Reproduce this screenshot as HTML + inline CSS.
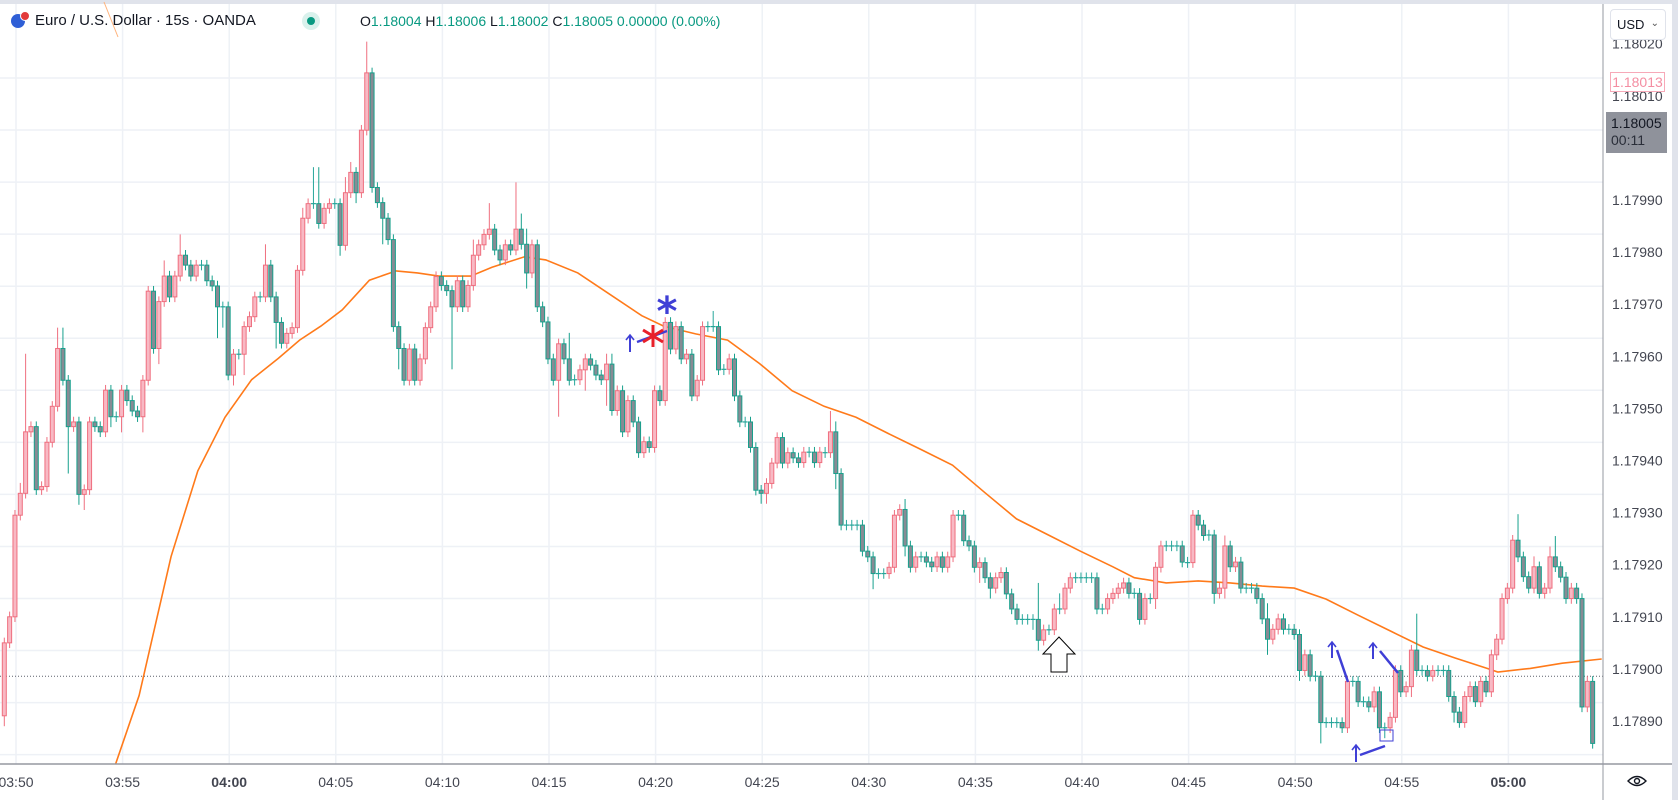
<!DOCTYPE html>
<html><head><meta charset="utf-8">
<style>
html,body{margin:0;padding:0;background:#fff;}
body{width:1678px;height:800px;overflow:hidden;position:relative;font-family:"Liberation Sans",sans-serif;}
svg{position:absolute;left:0;top:0;}
</style></head>
<body>
<svg id="chart" width="1678" height="800" xmlns="http://www.w3.org/2000/svg">
  <rect x="0" y="0" width="1678" height="800" fill="#ffffff"/>
  <rect x="0" y="0" width="1678" height="4" fill="#e0e3eb"/>
  <rect x="1672" y="0" width="6" height="800" fill="#e0e3eb"/>
  <g id="grid"></g>
  <g id="ma"></g>
  <g id="candles"></g>
  <g id="annot"></g>
  <g id="axes"></g>
</svg>
<script>
// ---- data (prices in units of 0.00001 above 1.17800) ----
const closes = [105,110,129.5,133.7,145.5,146.5,134.4,135,143.5,150.4,161.5,155.4,146.5,147.4,133.5,134.4,147.4,146.5,145.5,153.5,
148.4,148.4,153.5,151.5,149.5,148.4,155.4,172.5,161.5,170.5,175.4,171.4,175.4,179.4,177.5,175.4,177.5,177.5,174.5,173.5,
169.5,169.5,156.4,160.4,160.4,165.7,167.6,171.4,171.4,177.5,171.4,166.5,162.5,164.4,165.5,176.5,186.5,189.3,189.3,185.5,
188.4,189.3,189.3,181.3,191.4,195.3,191.4,203.4,214.4,192.4,189.5,186.5,182.4,165.7,161.5,155.4,161.4,155.4,159.5,165.5,
169.5,175.3,173.6,172.6,169.5,174.5,169.5,173.6,179.4,181.4,183.4,184.4,180.4,178.5,181.4,180.4,184.4,181.5,176,181.4,
169.5,166.6,159.5,155.4,162.4,159.5,155.4,155.5,157.4,159.5,158.3,156.4,155.5,158.5,149.6,153.4,145.5,151.5,147.4,141.5,
143.6,142.5,153.4,151.5,166.5,161.4,165.7,159.5,160.4,152.4,155.4,165.7,165.7,165.7,157.4,157.5,159.5,152.4,147.4,147.4,
142.5,134.3,133.7,135.6,139.5,144.4,139.5,141.5,140.5,139.6,141.6,141.6,139.6,141.6,141.5,145.5,137.5,127.6,127.6,127.6,
127.6,122.6,121.5,118.3,118.3,118.3,119.5,129.5,130.6,123.6,119.5,121.5,121.5,120.5,119.6,121.5,119.5,121.5,129.5,129.5,
124.6,123.6,119.5,120.4,117.5,115.5,117.5,118.5,114.4,111.5,109.5,109.5,109.5,109.5,105.5,107.5,107.5,111.5,111.5,115.5,
117.5,117.5,117.5,117.5,117.5,111.5,111.5,113.5,114.5,115.5,116.5,114.5,114.5,109.5,113.5,113.5,119.5,123.6,123.6,123.6,
123.6,120.5,120.4,129.5,127.6,125.6,125.7,114.5,115.5,123.6,119.6,120.5,115.5,115.5,115.5,113.5,109.6,105.7,107.6,109.6,
107.6,107.6,106.6,99.7,102.7,98.6,98.6,89.7,89.7,89.7,89.7,88.7,97.6,97.6,93.7,93.7,92.7,95.6,88.7,88.7,
90.7,99.7,95.6,96.6,103.6,99.7,99.7,98.6,99.7,99.7,99.7,94.7,91.7,89.7,94.7,96.6,93.7,97.6,95.6,102.7,
105.7,113.5,115.5,124.7,121.5,117.7,115.5,119.6,114.5,115.5,121.5,119.6,117.6,113.5,115.5,113.5,92.7,97.6,85.7];
const firstOpen = 91;
const wickIdx = [0,3,4,10,11,12,14,15,20,22,26,29,30,33,40,41,43,45,49,51,56,58,59,63,64,65,66,68,71,74,84,88,91,96,97,98,104,106,109,113,114,122,133,142,143,155,156,157,163,169,178,183,185,187,193,194,198,199,216,217,227,229,237,243,247,251,252,259,261,264,265,268,272,273,283,284,287,290,291,293,296];
const wickUp  = [1,2,15,4,4,1,1,1,1,1,1,1,3,4,1,1,1,1,4,1,2,7,7,1,3,2,1,6,1,1,1,3,5,9,3,3,1,5,1,2,2,1,3,1,1,4,2,1,1,2,1,1,1,1,1,7,3,1,1,1,1,2,3,1,1,1,1,1,1,1,7,1,1,1,1,5,2,2,4,1,1];
const wickDn  = [2,1,1,1,1,9,2,3,2,3,3,3,1,1,6,4,2,4,1,5,1,1,1,2,1,1,2,1,5,4,12,1,1,1,1,3,7,1,4,5,1,1,1,2,2,1,3,1,3,2,1,3,2,1,2,2,1,1,2,1,2,2,3,2,4,1,1,2,1,2,1,1,2,1,1,1,1,1,1,1,1];
const maIdx = [20.9,25.3,31.3,36.3,41.4,46.4,51.4,55.4,59.4,63.4,68.5,73.5,77.5,81.5,87.5,91.5,97.6,101.6,107.6,113.6,119.6,123.7,129.7,135.7,141.7,147.8,153.8,159.8,165.8,171.8,177.9,183.9,189.9,195.9,201.9,208,212,218,224,230,236,242,248,254,260.2,266.2,272.2,278.2,280.2,286.3,292.3,299.7];
const maVal = [81.8,94.9,121.6,138,148.3,155.5,159.6,163.1,165.8,168.9,174.6,176.4,176,175.4,175.4,177.1,179.1,178.5,176,171.9,167.8,165.8,164.3,163.1,158.6,153.4,150.4,148.3,145.2,142.2,139.1,133.9,128.8,125.7,122.6,119.6,117.5,116.5,116.9,116.5,115.9,115.5,113.4,110.3,107.2,104.2,102.1,100.1,99.4,100.1,101.1,101.9];
const priceTicks = ["1.18020","1.18010","1.18000","1.17990","1.17980","1.17970","1.17960","1.17950","1.17940","1.17930","1.17920","1.17910","1.17900","1.17890"];
const timeTicks = ["03:50","03:55","04:00","04:05","04:10","04:15","04:20","04:25","04:30","04:35","04:40","04:45","04:50","04:55","05:00"];
const lastPrice = 98.6;

// ---- scales ----
const NS='http://www.w3.org/2000/svg';
const PLOT_R=1603, PLOT_B=764;
function yOf(p){return 200+(190-p)*5.21;}
function xOf(i){return 4.3+i*5.33;}
function tickX(k){return 16+k*106.6;}
function mk(tag,attrs,parent){const e=document.createElementNS(NS,tag);for(const k in attrs)e.setAttribute(k,attrs[k]);parent.appendChild(e);return e;}

const grid=document.getElementById('grid');
for(let k=0;k<15;k++){
  const gy=78+k*52.05;
  if(gy<PLOT_B){const l=mk('line',{x1:0,x2:PLOT_R,y1:gy,y2:gy,stroke:'#eef1f6','stroke-width':1.5},grid);
  
  }
}
timeTicks.forEach((t,k)=>{
  const l=mk('line',{x1:tickX(k),x2:tickX(k),y1:4,y2:PLOT_B,stroke:'#eef1f6','stroke-width':1.5},grid);
  
  
});

// MA
const maG=document.getElementById('ma');
let d='';
maIdx.forEach((ix,j)=>{d+=(j?'L':'M')+xOf(ix).toFixed(1)+' '+Math.min(yOf(maVal[j]),PLOT_B).toFixed(1)+' ';});
const mp=mk('path',{d:d,fill:'none',stroke:'#ff7a1a','stroke-width':1.6},maG);


const old=mk('line',{x1:104,y1:2,x2:118,y2:37,stroke:'#ffb27a','stroke-width':1},maG);



// last price dotted line
const lp=mk('line',{x1:0,x2:PLOT_R,y1:yOf(lastPrice),y2:yOf(lastPrice),stroke:'#5d606b','stroke-width':1,'stroke-dasharray':'1 2'},maG);



// candles
const cg=document.getElementById('candles');
for(let i=0;i<closes.length;i++){
  const o=i?closes[i-1]:firstOpen, c=closes[i];
  const w=wickIdx.indexOf(i);
  const up=w>=0?wickUp[w]:1, dn=w>=0?wickDn[w]:1;
  const hi=Math.max(o,c)+up, lo=Math.min(o,c)-dn;
  const x=xOf(i);
  const bull=c>o, doji=Math.abs(c-o)<0.3;
  const col=doji?'#26a69a':(bull?'#ef6f7f':'#17a08c');
  const g=mk('g',{},cg);
  
  
  mk('line',{x1:x,x2:x,y1:yOf(hi),y2:yOf(lo),stroke:col,'stroke-width':1},g);
  if(doji){
    mk('line',{x1:x-2.5,x2:x+2.5,y1:yOf(c),y2:yOf(c),stroke:col,'stroke-width':1.2},g);
  }else{
    const t=yOf(Math.max(o,c)),b=yOf(Math.min(o,c));
    mk('rect',{x:x-2,y:t,width:4,height:b-t,fill:bull?'#f8b9c4':'#878b94',stroke:col,'stroke-width':1},g);
  }
}

// annotations
const an=document.getElementById('annot');
function arrowUp(x,y1,y2,name){
  const g=mk('g',{},an);
  
  
  mk('line',{x1:x,x2:x,y1:y1,y2:y2,stroke:'#3f3fd6','stroke-width':2},g);
  mk('path',{d:`M${x-4} ${y1+5} L${x} ${y1} L${x+4} ${y1+5}`,fill:'none',stroke:'#3f3fd6','stroke-width':1.6},g);
}
arrowUp(630,335,352,'signal-arrow-up-1');
let l=mk('line',{x1:637,y1:342,x2:667,y2:331,stroke:'#3f3fd6','stroke-width':2.5},an);


let star=mk('path',{d:'M653 325 L653 347 M643 330 L663 342 M643 342 L663 330',stroke:'#e8202a','stroke-width':3,fill:'none'},an);


let t=mk('text',{x:667,y:325,'font-size':40,fill:'#3f3fd6','text-anchor':'middle','font-family':'DejaVu Sans, sans-serif','font-weight':'bold'},an);
t.textContent='*';


arrowUp(1332,642,658,'signal-arrow-up-2');
l=mk('line',{x1:1337,y1:650,x2:1348,y2:682,stroke:'#3f3fd6','stroke-width':2.5},an);


arrowUp(1373,643,659,'signal-arrow-up-3');
l=mk('line',{x1:1380,y1:651,x2:1398,y2:673,stroke:'#3f3fd6','stroke-width':2.5},an);


arrowUp(1356,745,762,'signal-arrow-up-4');
l=mk('line',{x1:1360,y1:755,x2:1385,y2:746,stroke:'#3f3fd6','stroke-width':2.5},an);


l=mk('rect',{x:1380,y:730,width:13,height:11,fill:'none',stroke:'#3f3fd6','stroke-width':1},an);


l=mk('path',{d:'M1059 637 L1075 654 L1067 654 L1067 672 L1051 672 L1051 654 L1043 654 Z',fill:'#fff',stroke:'#000','stroke-width':1},an);



// axes
const ax=document.getElementById('axes');
mk('rect',{x:PLOT_R,y:4,width:69,height:796,fill:'#fff'},ax);
mk('rect',{x:0,y:PLOT_B,width:1672,height:36,fill:'#fff'},ax);
l=mk('line',{x1:0,x2:1672,y1:PLOT_B,y2:PLOT_B,stroke:'#9598a1','stroke-width':1.5},ax);


l=mk('line',{x1:PLOT_R,x2:PLOT_R,y1:4,y2:800,stroke:'#9598a1','stroke-width':1},ax);


priceTicks.forEach((s,k)=>{
  const tt=mk('text',{x:1612,y:200+(k-3)*52.1+5,'font-size':14,fill:'#434651','font-family':'Liberation Sans, sans-serif'},ax);
  tt.textContent=s;
  
  
});
timeTicks.forEach((s,k)=>{
  const bold=(s==='04:00'||s==='05:00');
  const tt=mk('text',{x:tickX(k),y:787,'font-size':14,'text-anchor':'middle',fill:'#434651','font-weight':bold?'bold':'normal','font-family':'Liberation Sans, sans-serif'},ax);
  tt.textContent=s;
  
  
});
</script>

<div style="position:absolute;left:1610px;top:9px;width:56px;height:31px;border:1px solid #e0e3eb;border-radius:4px;background:#fff;box-sizing:border-box;font-size:13px;color:#131722;line-height:29px;padding-left:6px;">USD<span style="position:absolute;right:6px;top:-1px;font-size:10px;color:#555;">&#8964;</span></div>
<div style="position:absolute;left:1610px;top:72px;width:55px;height:20px;border:1px solid #f7a9b8;background:#fff;box-sizing:border-box;font-size:14px;color:#f48ea2;line-height:18px;text-align:center;">1.18013</div>
<div style="position:absolute;left:1606px;top:112px;width:61px;height:41px;background:#8f929b;box-sizing:border-box;font-size:14px;color:#131722;line-height:17px;padding:3px 0 0 5px;">1.18005<br><span style="color:#2a2e39">00:11</span></div>
<div style="position:absolute;left:1627px;top:774px;width:20px;height:14px;">
<svg width="20" height="14" style="position:static"><path d="M1 7 Q10 -2 19 7 Q10 16 1 7 Z" fill="none" stroke="#131722" stroke-width="1.4"/><circle cx="10" cy="7" r="2.5" fill="none" stroke="#131722" stroke-width="1.4"/></svg></div>

<div style="position:absolute;left:0;top:10px;height:22px;white-space:nowrap;font-size:15px;color:#131722;">
  <span style="position:absolute;left:11px;top:4px;width:14px;height:14px;border-radius:50%;background:#2f5fd6;"></span>
  <span style="position:absolute;left:20px;top:1px;width:8px;height:8px;border-radius:50%;background:#e23a3a;border:1px solid #fff;"></span>
  <span style="position:absolute;left:35px;top:2px;">Euro / U.S. Dollar · 15s · OANDA</span>
  <span style="position:absolute;left:302px;top:2px;width:18px;height:18px;border-radius:50%;background:#d9f1ec;"></span>
  <span style="position:absolute;left:307px;top:7px;width:8px;height:8px;border-radius:50%;background:#089981;"></span>
  <span style="position:absolute;left:360px;top:3px;font-size:14px;color:#089981;">
    <span style="color:#131722">O</span>1.18004 <span style="color:#131722">H</span>1.18006 <span style="color:#131722">L</span>1.18002 <span style="color:#131722">C</span>1.18005 0.00000 (0.00%)</span>
</div>
</body></html>
